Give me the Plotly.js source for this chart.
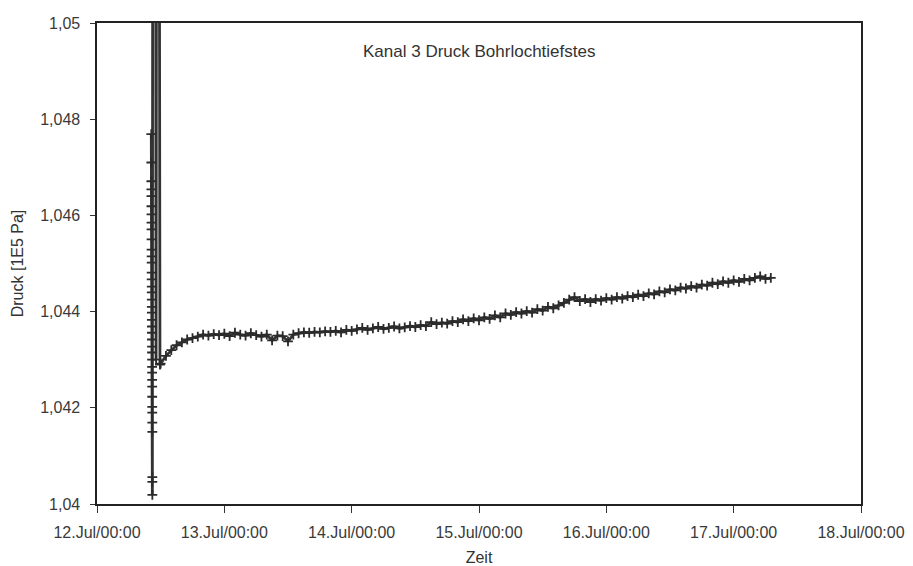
<!DOCTYPE html>
<html>
<head>
<meta charset="utf-8">
<script src="https://cdn.plot.ly/plotly-3.0.1.min.js"></script>
<style>
  html, body { margin: 0; padding: 0; background: #ffffff; }
  #chart { width: 913px; height: 566px; }
</style>
</head>
<body>
<div id="chart"></div>
<script>
// ---- Data ----
const chartTitle = 'Kanal 3 Druck Bohrlochtiefstes';
const xTitle = 'Zeit';
const yTitle = 'Druck [1E5 Pa]';

// Start phase on 12.Jul (dense readings, pressure column and off-scale excursions)
const spikeTimes = [
  '1996-07-12 10:14:00','1996-07-12 10:14:20','1996-07-12 10:14:40','1996-07-12 10:15:00',
  '1996-07-12 10:15:20','1996-07-12 10:15:40','1996-07-12 10:16:00','1996-07-12 10:16:20',
  '1996-07-12 10:16:40','1996-07-12 10:17:00','1996-07-12 10:17:20','1996-07-12 10:17:40',
  '1996-07-12 10:18:00','1996-07-12 10:18:20','1996-07-12 10:18:40','1996-07-12 10:19:00',
  '1996-07-12 10:19:20','1996-07-12 10:19:40','1996-07-12 10:20:00','1996-07-12 10:20:20',
  '1996-07-12 10:20:40','1996-07-12 10:21:00','1996-07-12 10:21:20','1996-07-12 10:21:40',
  '1996-07-12 10:22:00','1996-07-12 10:22:20','1996-07-12 10:22:40','1996-07-12 10:23:00',
  '1996-07-12 10:23:20','1996-07-12 10:23:40','1996-07-12 10:24:00','1996-07-12 10:24:20',
  '1996-07-12 10:24:40','1996-07-12 10:25:00','1996-07-12 10:25:20','1996-07-12 10:25:40',
  '1996-07-12 10:26:00',
  '1996-07-12 10:32:00','1996-07-12 11:00:00','1996-07-12 11:08:00',
  '1996-07-12 11:16:00','1996-07-12 11:40:00','1996-07-12 11:52:00'
];
const spikeValues = [
  1.04769,1.04710,1.04671,1.04654,1.04640,1.04619,1.04602,1.04585,
  1.04571,1.04550,1.04529,1.04515,1.04502,1.04481,1.04467,1.04452,
  1.04440,1.04425,1.04410,1.04398,1.04383,1.04369,1.04356,1.04342,
  1.04327,1.04315,1.04300,1.04285,1.04273,1.04258,1.04244,1.04223,
  1.04202,1.04190,1.04169,1.04150,1.04019,
  1.06000,1.06000,1.04300,
  1.06000,1.06000,1.04290
];
// extra low readings inside the column
const columnLowTimes = ['1996-07-12 10:25:50','1996-07-12 10:25:55'];
const columnLowValues = [1.04056, 1.04046];

// Hourly readings from 12.Jul 12:00 to 17.Jul 07:00
const mainStart = '1996-07-12 12:00';
const mainValues = [
  // 12.Jul 12:00 - 23:00
  1.04292,1.04308,1.04320,1.04330,1.04336,1.04342,1.04345,1.04348,1.04352,1.04350,1.04353,1.04351,
  // 13.Jul
  1.04354,1.04349,1.04356,1.04352,1.04350,1.04355,1.04351,1.04348,1.04352,1.04340,1.04350,1.04349,
  1.04338,1.04352,1.04355,1.04357,1.04356,1.04358,1.04357,1.04359,1.04358,1.04360,1.04357,1.04362,
  // 14.Jul
  1.04360,1.04363,1.04366,1.04362,1.04365,1.04368,1.04364,1.04366,1.04369,1.04365,1.04367,1.04370,
  1.04368,1.04372,1.04370,1.04378,1.04374,1.04377,1.04375,1.04380,1.04378,1.04384,1.04380,1.04386,
  // 15.Jul
  1.04382,1.04388,1.04385,1.04392,1.04388,1.04396,1.04393,1.04399,1.04396,1.04401,1.04398,1.04405,
  1.04402,1.04410,1.04407,1.04413,1.04418,1.04425,1.04430,1.04422,1.04426,1.04420,1.04426,1.04423,
  // 16.Jul
  1.04428,1.04425,1.04430,1.04427,1.04432,1.04430,1.04435,1.04432,1.04438,1.04436,1.04442,1.04440,
  1.04446,1.04444,1.04450,1.04448,1.04453,1.04450,1.04456,1.04454,1.04460,1.04457,1.04463,1.04460,
  // 17.Jul 00:00 - 07:00
  1.04465,1.04462,1.04468,1.04465,1.04470,1.04473,1.04468,1.04470
];

const xRange = ['1996-07-12 00:00', '1996-07-18 00:00'];
const yRange = [1.04, 1.05];

// ---- Build traces ----
const startMs = new Date(mainStart.replace(' ', 'T') + ':00Z').getTime();
function fmt(ms) {
  const d = new Date(ms);
  const p = n => String(n).padStart(2, '0');
  return d.getUTCFullYear() + '-' + p(d.getUTCMonth() + 1) + '-' + p(d.getUTCDate()) + ' ' +
         p(d.getUTCHours()) + ':' + p(d.getUTCMinutes());
}
const mainTimes = mainValues.map((_, i) => fmt(startMs + i * 3600000));

const allX = spikeTimes.concat(mainTimes);
const allY = spikeValues.concat(mainValues);

const markerStyle = { symbol: 'cross-thin', size: 7, line: { color: '#2b2b2b', width: 1.8 } };
const traces = [
  {
    type: 'scatter', mode: 'lines+markers',
    x: allX, y: allY,
    line: { color: '#333333', width: 2.8 },
    marker: markerStyle,
    showlegend: false, hoverinfo: 'x+y'
  },
  {
    type: 'scatter', mode: 'markers',
    x: columnLowTimes, y: columnLowValues,
    marker: markerStyle,
    showlegend: false
  }
];

const fontFamily = 'Liberation Sans, Arial, sans-serif';
const tickFont = { family: fontFamily, size: 16, color: '#3a3a3a' };
const titleFont = { family: fontFamily, size: 16, color: '#333333' };

const layout = {
  width: 913, height: 566,
  margin: { l: 97, r: 52, t: 23, b: 62 },
  paper_bgcolor: '#ffffff', plot_bgcolor: '#ffffff',
  separators: ',.',
  showlegend: false,
  font: tickFont,
  xaxis: {
    type: 'date', range: xRange,
    dtick: 86400000, tick0: '1996-07-12',
    tickformat: '%d.%b/%H:%M',
    ticks: 'outside', ticklen: 7, tickcolor: '#333', tickwidth: 1,
    ticklabelstandoff: 6,
    showgrid: false, zeroline: false,
    showline: true, linecolor: '#222', linewidth: 1.6, mirror: true,
    tickfont: tickFont,
    title: { text: xTitle, font: titleFont, standoff: 14 }
  },
  yaxis: {
    range: yRange, dtick: 0.002, tick0: 1.04,
    ticks: 'outside', ticklen: 5, tickcolor: '#333', tickwidth: 1,
    ticklabelstandoff: 7,
    showgrid: false, zeroline: false,
    showline: true, linecolor: '#222', linewidth: 1.6, mirror: true,
    tickfont: tickFont,
    title: { text: yTitle, font: titleFont, standoff: 12 }
  },
  annotations: [{
    text: chartTitle, xref: 'paper', yref: 'paper',
    x: 0.5, y: 0.94, xanchor: 'center', yanchor: 'middle',
    showarrow: false, font: { family: fontFamily, size: 17, color: '#333333' }
  }]
};

Plotly.newPlot('chart', traces, layout, { displayModeBar: false, staticPlot: true });
</script>
</body>
</html>
